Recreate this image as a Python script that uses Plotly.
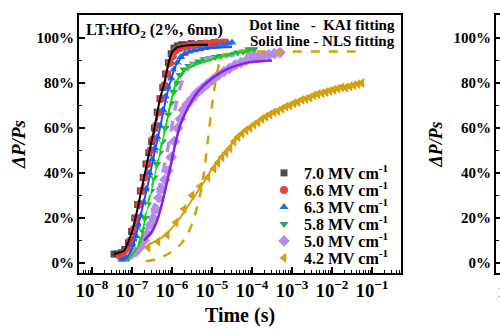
import plotly.graph_objects as go

# ---- measured polarization switching, ΔP/Ps (%) vs log10(time / s) ----
labels = ["7.0 MV cm<sup>-1</sup>", "6.6 MV cm<sup>-1</sup>", "6.3 MV cm<sup>-1</sup>",
          "5.8 MV cm<sup>-1</sup>", "5.0 MV cm<sup>-1</sup>", "4.2 MV cm<sup>-1</sup>"]

lt_70 = [-7.45, -7.36, -7.27, -7.18, -7.09, -7.01, -6.93, -6.86, -6.79, -6.72, -6.65, -6.58,
         -6.51, -6.44, -6.37, -6.30, -6.23, -6.16, -6.09, -6.02, -5.95, -5.86, -5.76, -5.64,
         -5.52, -5.40, -5.28, -5.16, -5.04, -4.94]
p_70 = [4, 4, 4.5, 6, 9, 14, 20, 26, 32, 38, 44, 49, 54, 60, 67, 73, 78, 84, 89, 93, 95.5,
        96.5, 97, 97, 97.5, 97, 97.5, 97.5, 97.5, 98]

lt_66 = [-7.30, -7.21, -7.12, -7.04, -6.96, -6.89, -6.82, -6.75, -6.68, -6.61, -6.54, -6.47,
         -6.40, -6.33, -6.26, -6.19, -6.12, -6.05, -5.98, -5.90, -5.80, -5.68, -5.56, -5.44,
         -5.30, -5.16, -5.02, -4.88, -4.74, -4.66]
p_66 = [3, 4, 6, 10, 15, 20, 26, 32, 38, 44, 50, 55, 61, 67, 73, 79, 84, 89, 92, 94.5, 95.5,
        96, 96.5, 97, 97, 97.5, 97.5, 98, 98, 98]

lt_63 = [-7.25, -7.15, -7.05, -6.97, -6.90, -6.84, -6.78, -6.71, -6.64, -6.57, -6.50, -6.43,
         -6.37, -6.30, -6.23, -6.16, -6.09, -6.02, -5.95, -5.87, -5.78, -5.68, -5.56, -5.44,
         -5.30, -5.16, -5.02, -4.88, -4.74, -4.60, -4.50]
p_63 = [1.5, 2, 4, 8, 12, 17, 21, 27, 33, 40, 46, 51, 56, 61, 68, 74, 78, 82, 86, 89, 91.5,
        93, 94, 94.5, 95, 95.5, 96, 96.5, 97, 97.5, 98]

lt_58 = [-7.10, -7.00, -6.92, -6.84, -6.76, -6.68, -6.61, -6.53, -6.45, -6.38, -6.31, -6.24,
         -6.17, -6.10, -6.03, -5.96, -5.89, -5.80, -5.70, -5.58, -5.46, -5.34, -5.20, -5.06,
         -4.92, -4.78, -4.64, -4.50, -4.36, -4.22, -4.08, -3.95]
p_58 = [2, 3.5, 6, 10, 15, 20, 26, 32, 38, 44, 49, 54, 60, 66, 71, 76, 80, 83.5, 86, 87.5,
        88.5, 89.5, 90.5, 91, 91.5, 92, 92.5, 93, 93.5, 94, 95, 95]

lt_50 = [-7.00, -6.90, -6.80, -6.70, -6.62, -6.54, -6.47, -6.40, -6.33, -6.26, -6.18, -6.10,
         -6.02, -5.94, -5.86, -5.79, -5.72, -5.62, -5.50, -5.38, -5.25, -5.12, -4.98, -4.84,
         -4.70, -4.56, -4.42, -4.28, -4.14, -4.00, -3.86, -3.72, -3.58, -3.44, -3.30]
p_50 = [4, 5, 7, 10, 13, 17, 20, 24, 29, 33, 37, 41, 47, 54, 60, 64, 68, 70.5, 73, 75.5,
        77.5, 79.5, 81.5, 83.5, 85, 86.5, 88, 89, 90, 91, 91.5, 92, 92.5, 93, 93.5]

lt_42 = [-6.60, -6.35, -6.12, -5.90, -5.70, -5.50, -5.30, -5.10, -4.95, -4.85, -4.75, -4.65,
         -4.55, -4.45, -4.35, -4.25, -4.15, -4.05, -3.95, -3.85, -3.75, -3.65, -3.55, -3.45,
         -3.35, -3.25, -3.15, -3.05, -2.95, -2.85, -2.75, -2.65, -2.55, -2.45, -2.35, -2.25,
         -2.15, -2.05, -1.95, -1.85, -1.75, -1.65, -1.55, -1.45, -1.35, -1.25]
p_42 = [7, 9.5, 12.5, 18, 24, 30, 34, 38, 42, 44.5, 47, 49, 51, 54, 56, 57.5, 59, 60, 61.5,
        62.5, 64, 65, 66, 67, 67.5, 68.5, 69.5, 70, 71, 71.5, 72.5, 73, 73.5, 74.5, 75, 75.5,
        76, 76.5, 77, 77.5, 78, 78, 78.5, 79, 79.5, 80]

# ---- fitted curves ----
nls_70_t = [-7.45, -7.20, -7.00, -6.90, -6.70, -6.50, -6.44, -6.30, -6.19, -6.10, -6.00, -5.90,
            -5.70, -5.40, -5.10]
nls_70_p = [4, 5.5, 14, 21, 38, 55, 60, 73, 80, 88, 93.5, 95.5, 96.5, 97, 97]

kai_66_t = [-7.35, -7.10, -6.90, -6.70, -6.50, -6.30, -6.15, -6.00, -5.85, -5.60, -5.20, -4.70]
kai_66_p = [3, 6, 18, 35, 52, 70, 83, 92, 95, 96.5, 97, 97.5]

nls_63_t = [-7.30, -7.10, -6.95, -6.80, -6.60, -6.45, -6.30, -6.15, -6.05, -5.90, -5.70, -5.40,
            -5.00, -4.50]
nls_63_p = [1.5, 3, 9, 20, 35, 48, 60, 73, 80, 88, 92.5, 94.5, 95.5, 96]

nls_58_t = [-7.10, -6.90, -6.75, -6.68, -6.45, -6.17, -5.90, -5.70, -5.50, -5.10, -4.70, -4.30,
            -3.95]
nls_58_p = [1.5, 6, 12, 20, 38, 60, 80, 85.5, 87.5, 90, 92, 93.5, 94.5]

kai_58_t = [-6.90, -6.70, -6.50, -6.30, -6.15, -6.00, -5.85, -5.70, -5.40, -5.00, -4.50]
kai_58_p = [7, 20, 36, 52, 65, 78, 87, 90.5, 92, 93, 94]

nls_50_t = [-6.70, -6.50, -6.35, -6.20, -6.05, -5.93, -5.80, -5.60, -5.40, -5.20, -5.00, -4.70,
            -4.25, -3.90, -3.50]
nls_50_p = [10, 14, 20, 30, 42, 52, 61, 69, 75, 79, 82, 85.5, 88.5, 89.5, 90]

kai_50_t = [-6.90, -6.70, -6.50, -6.30, -6.18, -6.05, -5.93, -5.80, -5.65, -5.50, -5.20, -4.70,
            -4.00, -3.30]
kai_50_p = [5, 11, 22, 35, 44, 56, 68, 78, 85, 88, 90.5, 92, 93, 93.5]

nls_42_t = [-6.60, -6.20, -5.80, -5.50, -5.20, -5.00, -4.70, -4.40, -4.00, -3.60, -3.20, -2.80,
            -2.40, -2.00, -1.60, -1.25]
nls_42_p = [8, 12, 20, 28, 36, 42, 49, 55, 61, 65.5, 69, 72, 74.5, 77, 78.5, 79.5]

kai_42_t = [-6.65, -6.40, -6.10, -5.80, -5.60, -5.45, -5.30, -5.20, -5.10, -5.00, -4.90, -4.80,
            -4.70, -4.50, -3.00, -1.25]
kai_42_p = [0.8, 1.5, 4, 8, 13, 20, 30, 40, 55, 70, 82, 90, 93, 93.8, 94, 94]

# y-axis ticks
yticks = [0, 20, 40, 60, 80, 100]
ytext = ["0%", "20%", "40%", "60%", "80%", "100%"]

FONT = "Liberation Serif"


def sec(logs):
    return [10 ** v for v in logs]


fig = go.Figure()

# experimental points, each with its own key row
markers = [
    (lt_70, p_70, "square", "#4d4d4d", 7),
    (lt_66, p_66, "circle", "#e8433f", 8),
    (lt_63, p_63, "triangle-up", "#2b6fd8", 8),
    (lt_58, p_58, "triangle-down", "#2e9e62", 8),
    (lt_50, p_50, "diamond", "#b48de8", 9),
    (lt_42, p_42, "triangle-left", "#d4a10c", 9),
]
legend_ids = ["legend", "legend2", "legend3", "legend4", "legend5", "legend6"]
for (lt, p, sym, col, sz), name, lg in zip(markers, labels, legend_ids):
    fig.add_trace(go.Scatter(
        x=sec(lt), y=p, mode="markers", name=name, legend=lg,
        marker=dict(symbol=sym, color=col, size=sz, line=dict(width=0)),
        xaxis="x", yaxis="y"))

# KAI (dashed) and NLS (solid) fits
fits = [
    (kai_50_t, kai_50_p, "#b48de8", 3.5, "dash"),
    (kai_42_t, kai_42_p, "#d4a10c", 2.5, "dash"),
    (nls_58_t, nls_58_p, "#00dd00", 2, "solid"),
    (kai_58_t, kai_58_p, "#ffffff", 1.5, "dash"),
    (nls_63_t, nls_63_p, "#1f4fff", 2, "solid"),
    (kai_66_t, kai_66_p, "#ff2020", 1.5, "dash"),
    (nls_70_t, nls_70_p, "#000000", 2, "solid"),
    (nls_50_t, nls_50_p, "#8a1cf0", 2.5, "solid"),
    (nls_42_t, nls_42_p, "#d4a10c", 2, "solid"),
]
for lt, p, col, w, dash in fits:
    fig.add_trace(go.Scatter(
        x=sec(lt), y=p, mode="lines", showlegend=False, hoverinfo="skip",
        line=dict(color=col, width=w, dash=dash, shape="spline", smoothing=0.6),
        xaxis="x", yaxis="y"))

# neighbouring panel (only its left edge fits on the page)
fig.add_trace(go.Scatter(x=[1e-8], y=[-50], mode="markers", showlegend=False,
                         hoverinfo="skip", xaxis="x2", yaxis="y2"))

tickfont = dict(family=FONT, size=15, color="black", weight="bold")

fig.update_layout(
    width=500, height=333,
    margin=dict(l=79, r=0, t=15, b=60),
    paper_bgcolor="white", plot_bgcolor="white",
    font=dict(family=FONT, color="black"),
    xaxis=dict(
        type="log", domain=[0, 322 / 421], range=[-8.325, -0.275],
        dtick=1, exponentformat="power", showexponent="all",
        ticks="inside", ticklen=6, tickwidth=1.5, tickcolor="black",
        minor=dict(ticks="inside", ticklen=3, tickwidth=1, tickcolor="black", showgrid=False),
        showline=True, linewidth=2, linecolor="black", mirror=True,
        showgrid=False, zeroline=False, tickfont=tickfont,
        title=dict(text="Time (s)", font=dict(family=FONT, size=20, weight="bold"), standoff=8),
    ),
    yaxis=dict(
        range=[-4.44, 110.2], tickmode="array", tickvals=yticks, ticktext=ytext,
        ticks="inside", ticklen=6, tickwidth=1.5, tickcolor="black",
        minor=dict(ticks="inside", ticklen=3, tickwidth=1, tickcolor="black",
                   dtick=10, showgrid=False),
        showline=True, linewidth=2, linecolor="black", mirror=True,
        showgrid=False, zeroline=False, tickfont=tickfont,
        title=dict(text="<i>ΔP/Ps</i>", font=dict(family=FONT, size=19, weight="bold"), standoff=6),
    ),
    xaxis2=dict(
        type="log", domain=[417 / 421, 1], range=[-8.325, -8.2], anchor="y2",
        showticklabels=False, ticks="", showline=True, linewidth=2, linecolor="black",
        mirror=True, showgrid=False, zeroline=False,
    ),
    yaxis2=dict(
        range=[-4.44, 110.2], tickmode="array", tickvals=yticks, ticktext=ytext, anchor="x2",
        ticks="inside", ticklen=6, tickwidth=1.5, tickcolor="black",
        minor=dict(ticks="inside", ticklen=3, tickwidth=1, tickcolor="black",
                   dtick=10, showgrid=False),
        showline=True, linewidth=2, linecolor="black", mirror=False,
        showgrid=False, zeroline=False, tickfont=tickfont,
        title=dict(text="<i>ΔP/Ps</i>", font=dict(family=FONT, size=18, weight="bold"), standoff=6),
    ),
    showlegend=True,
)

# one key row per field strength, stacked 17 px apart
row_centers = [173, 190, 207, 224, 241, 258]
for lg, yc in zip(legend_ids, row_centers):
    fig.update_layout({lg: dict(
        x=(264 - 79) / 421, xanchor="left", y=(273 - yc) / 258, yanchor="middle",
        bgcolor="rgba(0,0,0,0)", borderwidth=0, itemwidth=30,
        font=dict(family=FONT, size=16, color="black", weight="bold"),
    )})

fig.add_annotation(text="LT:HfO<sub>2</sub> (2%, 6nm)", xref="paper", yref="paper",
                   x=(84 - 79) / 421, y=(273 - 19) / 258, xanchor="left", yanchor="top",
                   showarrow=False, font=dict(family=FONT, size=16, color="black", weight="bold"))
note_font = dict(family=FONT, size=15, color="black", weight="bold")
fig.add_annotation(text="Dot line\u00a0\u00a0\u00a0-\u00a0\u00a0KAI fitting",
                   xref="paper", yref="paper", x=(397 - 79) / 421, y=(273 - 25) / 258,
                   xanchor="right", yanchor="middle", showarrow=False, font=note_font)
fig.add_annotation(text="Solid line - NLS fitting",
                   xref="paper", yref="paper", x=(397 - 79) / 421, y=(273 - 41) / 258,
                   xanchor="right", yanchor="middle", showarrow=False, font=note_font)
# first tick label of the neighbouring panel, cut by the page edge
fig.add_annotation(text="10<sup>-8</sup>", xref="paper", yref="paper",
                   x=(496 - 79) / 421, y=(273 - 280) / 258, xanchor="left", yanchor="top",
                   showarrow=False, font=tickfont)

fig.write_html("out.html")
